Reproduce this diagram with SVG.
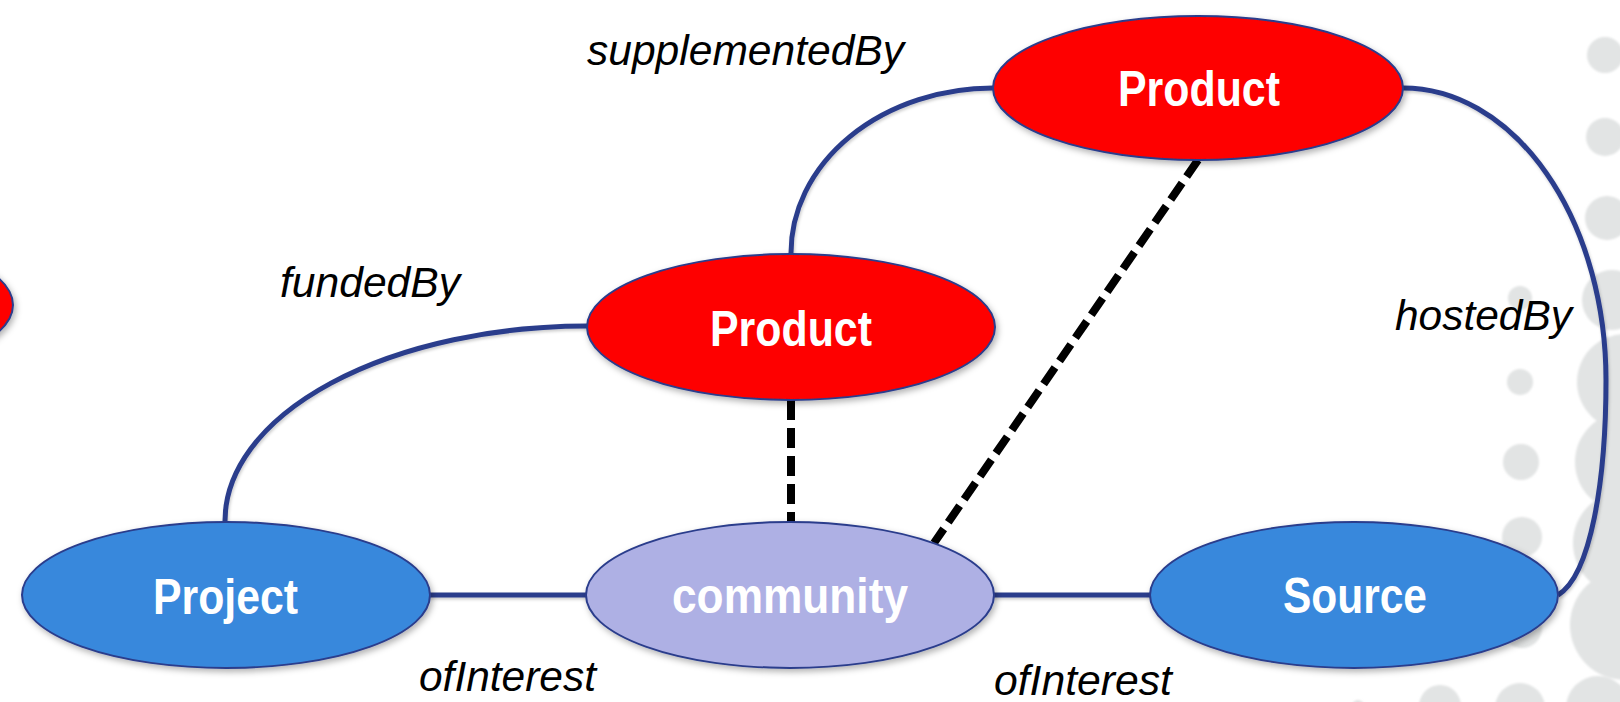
<svg xmlns="http://www.w3.org/2000/svg" width="1620" height="702" viewBox="0 0 1620 702">
<defs>
<filter id="sh" x="-10%" y="-20%" width="125%" height="150%">
<feDropShadow dx="2" dy="3" stdDeviation="3" flood-color="#000" flood-opacity="0.3"/>
</filter>
<filter id="lsh" filterUnits="userSpaceOnUse" x="0" y="0" width="1620" height="702">
<feDropShadow dx="1" dy="2" stdDeviation="1.5" flood-color="#000" flood-opacity="0.2"/>
</filter>
<filter id="soft"><feGaussianBlur stdDeviation="1.2"/></filter>
</defs>
<style>
.dot{fill:#e2e4e4}
.node{stroke:#2b3d8c;stroke-width:2}
.red{fill:#fe0000}
.blue{fill:#3888dc}
.lav{fill:#aeb0e4}
.nl{font-family:"Liberation Sans",Arial,sans-serif;font-weight:bold;font-size:50px;fill:#fff}
.el{font-family:"Liberation Sans",Arial,sans-serif;font-style:italic;font-size:42px;fill:#000}
.link{fill:none;stroke:#2b3d8c;stroke-width:5}
.dash{fill:none;stroke:#000;stroke-width:8;stroke-dasharray:20 8}
</style>
<rect width="1620" height="702" fill="#fff"/>
<g id="background-dots" filter="url(#soft)">
<circle class="dot" cx="1605" cy="55" r="18"/>
<circle class="dot" cx="1605" cy="137" r="19"/>
<circle class="dot" cx="1607" cy="218" r="22"/>
<circle class="dot" cx="1612" cy="300" r="30"/>
<circle class="dot" cx="1520" cy="298" r="12"/>
<circle class="dot" cx="1625" cy="382" r="48"/>
<circle class="dot" cx="1520" cy="382" r="13"/>
<circle class="dot" cx="1521" cy="462" r="18"/>
<circle class="dot" cx="1625" cy="462" r="50"/>
<circle class="dot" cx="1522" cy="537" r="20"/>
<circle class="dot" cx="1625" cy="543" r="52"/>
<circle class="dot" cx="1522" cy="628" r="20"/>
<circle class="dot" cx="1625" cy="625" r="55"/>
<circle class="dot" cx="1358" cy="706" r="6"/>
<circle class="dot" cx="1440" cy="706" r="21"/>
<circle class="dot" cx="1520" cy="708" r="25"/>
<circle class="dot" cx="1598" cy="708" r="32"/>
</g>
<g id="connectors">
<path class="link" filter="url(#lsh)" d="M428,595 H589"/>
<path class="link" filter="url(#lsh)" d="M992,595 H1152"/>
<path class="link" filter="url(#lsh)" d="M225,521 A362,195 0 0 1 587,326"/>
<path class="link" filter="url(#lsh)" d="M791,253 A202,165 0 0 1 993,88"/>
<path class="link" filter="url(#lsh)" d="M1403,88 A203,292 0 0 1 1606,380 C1606,480 1591,575 1558,595"/>
<path class="dash" d="M791,400 V522"/>
<path class="dash" d="M1198,160 L934,543"/>
<text class="el" x="587" y="65" textLength="317" lengthAdjust="spacingAndGlyphs">supplementedBy</text>
<text class="el" x="280" y="297" textLength="180" lengthAdjust="spacingAndGlyphs">fundedBy</text>
<text class="el" x="1395" y="330" textLength="177" lengthAdjust="spacingAndGlyphs">hostedBy</text>
<text class="el" x="419" y="691" textLength="177" lengthAdjust="spacingAndGlyphs">ofInterest</text>
<text class="el" x="994" y="695" textLength="178" lengthAdjust="spacingAndGlyphs">ofInterest</text>
</g>
<g id="node-product-left">
<ellipse class="node red" filter="url(#sh)" cx="-191" cy="305" rx="204" ry="73"/>
</g>
<g id="node-product-top">
<ellipse class="node red" filter="url(#sh)" cx="1198" cy="88" rx="205" ry="72"/>
<text class="nl" x="1118" y="106" textLength="162" lengthAdjust="spacingAndGlyphs">Product</text>
</g>
<g id="node-product-mid">
<ellipse class="node red" filter="url(#sh)" cx="791" cy="327" rx="204" ry="73"/>
<text class="nl" x="710" y="346" textLength="162" lengthAdjust="spacingAndGlyphs">Product</text>
</g>
<g id="node-project">
<ellipse class="node blue" filter="url(#sh)" cx="226" cy="595" rx="204" ry="73"/>
<text class="nl" x="153" y="614" textLength="145" lengthAdjust="spacingAndGlyphs">Project</text>
</g>
<g id="node-community">
<ellipse class="node lav" filter="url(#sh)" cx="790" cy="595" rx="204" ry="73"/>
<text class="nl" x="672" y="613" textLength="236" lengthAdjust="spacingAndGlyphs">community</text>
</g>
<g id="node-source">
<ellipse class="node blue" filter="url(#sh)" cx="1354" cy="595" rx="204" ry="73"/>
<text class="nl" x="1283" y="613" textLength="144" lengthAdjust="spacingAndGlyphs">Source</text>
</g>
</svg>
